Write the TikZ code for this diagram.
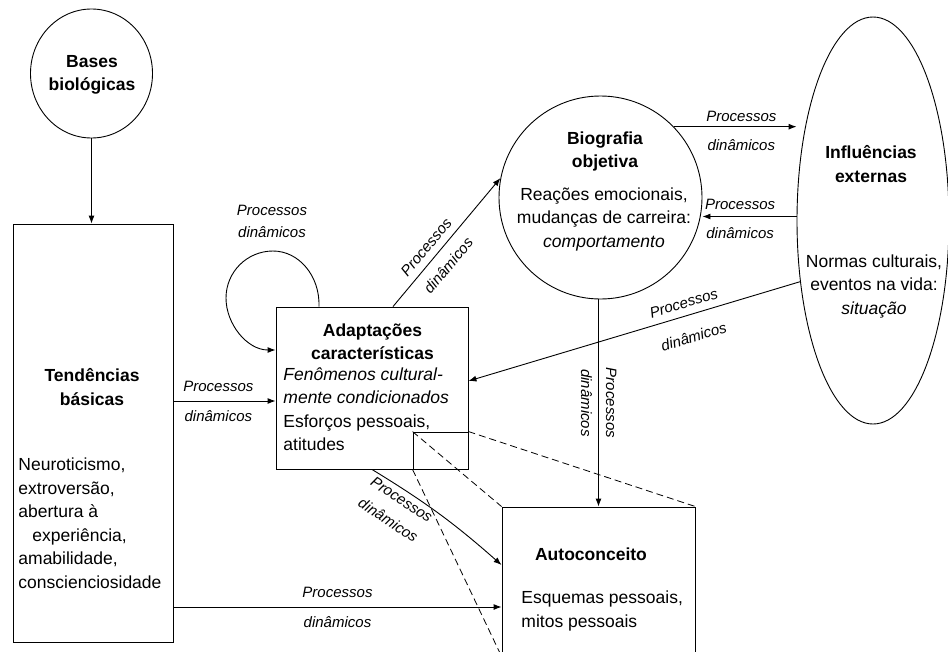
\documentclass[tikz,border=0pt]{standalone}
\usepackage{fontspec}
\setmainfont{Liberation Sans}
\usetikzlibrary{shapes.geometric,arrows.meta}

\begin{document}
\begin{tikzpicture}[x=1pt,y=-1pt,line width=0.9pt,>={Latex[length=8pt,width=6pt]},
  body/.style={font=\fontsize{17.5}{23.5}\selectfont,inner sep=0pt},
  head/.style={font=\fontsize{17.5}{23.5}\selectfont\bfseries,inner sep=0pt,align=center},
  lbl/.style={font=\fontsize{15}{18}\selectfont\itshape,inner sep=1pt},
  zoomline/.style={dash pattern=on 7pt off 4pt,line width=0.8pt}]
  \useasboundingbox (0,0) rectangle (948,651);

  % frames
  \node[draw,ellipse,minimum width=122pt,minimum height=129pt] (bases) at (91.5,73.5) {};
  \node[draw,minimum width=160pt,minimum height=418pt] (tend) at (93,433) {};
  \node[draw,minimum width=192pt,minimum height=162pt] (adapt) at (372,388) {};
  \node[draw,anchor=south east,minimum width=55pt,minimum height=37pt] (detail) at (adapt.south east) {};
  \node[draw,minimum width=193pt,minimum height=149pt] (auto) at (598.5,581.5) {};
  \node[draw,circle,minimum size=203pt] (bio) at (600.5,197.5) {};
  \node[draw,ellipse,minimum width=152pt,minimum height=407pt] (infl) at (873,220.5) {};

  % texts
  \node[head] (basestxt) at (92,75) {Bases\\biológicas};
  \node[head] (tendtxt) at (92,387) {Tendências\\básicas};
  \node[body,anchor=west,align=left] (tendlist) at (18,523)
    {Neuroticismo,\\extroversão,\\abertura à\\\hspace*{14pt}experiência,\\amabilidade,\\conscienciosidade};
  \node[head] (adapttxt) at (372.5,341.5) {Adaptações\\características};
  \node[body,anchor=west,align=left] (adaptlist) at (283,409)
    {\textit{Fenômenos cultural-}\\\textit{mente condicionados}\\Esforços pessoais,\\atitudes};
  \node[head] (autotxt) at (591,554) {Autoconceito};
  \node[body,anchor=west,align=left] (autolist) at (521,611) {Esquemas pessoais,\\mitos pessoais};
  \node[head] (biotxt) at (605,151.5) {Biografia\\objetiva};
  \node[body,align=center] (biolist) at (604,219)
    {Reações emocionais,\\mudanças de carreira:\\\textit{comportamento}};
  \node[head] (infltxt) at (871,164) {Influências\\externas};
  \node[body,align=center] (infllist) at (874,286)
    {Normas culturais,\\eventos na vida:\\\textit{situação}};

  % connectors
  \draw[->] (bases.south) -- (bases.south |- tend.north);

  \coordinate (tendin) at ([yshift=-13pt]adapt.west);
  \draw[->] (tend.east |- tendin) -- (tendin)
    node[lbl,pos=0.44,above=8pt] {Processos} node[lbl,pos=0.44,below=8pt] {dinâmicos};

  \coordinate (autoin) at ([yshift=-25.5pt]auto.west);
  \draw[->] (tend.east |- autoin) -- (autoin)
    node[lbl,midway,above=8pt] {Processos} node[lbl,midway,below=8pt] {dinâmicos};

  \coordinate (loopout) at ([xshift=-53pt]adapt.north);
  \coordinate (loopin) at ([yshift=38pt]adapt.west);
  \draw[->] (loopout) .. controls (320,276) and (299,251) .. (273,251)
    .. controls (247,251) and (226,272) .. (226,298)
    .. controls (226,324) and (247,350) .. (loopin);
  \node[lbl,align=center,font=\fontsize{15}{22}\selectfont\itshape] (looplbl) at (272,221)
    {Processos\\dinâmicos};

  \coordinate (adaptout) at ([xshift=21pt]adapt.north);
  \draw[->] (adaptout) -- (bio.169)
    node[lbl,sloped,pos=0.4,above=6pt] {Processos} node[lbl,sloped,pos=0.4,below=9pt] {dinâmicos};

  \draw[->] (bio.44) -- (bio.44 -| infl.west)
    node[lbl,pos=0.55,above=4pt] {Processos} node[lbl,pos=0.55,below=11pt] {dinâmicos};

  \coordinate (inflout) at ([yshift=4pt]infl.west);
  \draw[->] (inflout) -- (inflout -| bio.east)
    node[lbl,pos=0.6,above=5pt] {Processos} node[lbl,pos=0.6,below=10pt] {dinâmicos};

  \coordinate (adaptin) at ([yshift=7pt]adapt.east);
  \draw[->] (infl.220) -- (adaptin)
    node[lbl,sloped,pos=0.34,above=6pt] {Processos} node[lbl,sloped,pos=0.34,below=15pt] {dinâmicos};

  \draw[->] (bio.south -| auto.north) -- (auto.north)
    node[lbl,sloped,midway,above=6pt] {Processos} node[lbl,sloped,midway,below=5pt] {dinâmicos};

  \coordinate (autotop) at ([yshift=16.5pt]auto.west);
  \draw[->] (adapt.south) to[bend left=5]
    node[lbl,sloped,pos=0.24,below=3pt] {Processos} node[lbl,sloped,pos=0.24,below=27pt] {dinâmicos}
    (autotop);

  % zoom lines
  \draw[zoomline] (detail.north west) -- (auto.north west);
  \draw[zoomline] (detail.north east) -- (auto.north east);
  \draw[zoomline] (detail.south west) -- (auto.south west);
\end{tikzpicture}
\end{document}
